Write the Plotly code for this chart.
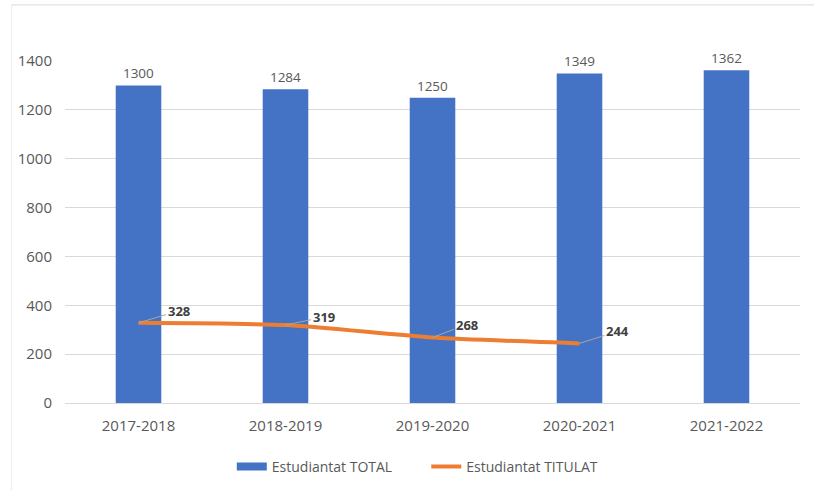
import plotly.graph_objects as go

categories = ["2017-2018", "2018-2019", "2019-2020", "2020-2021", "2021-2022"]
total_values = [1300, 1284, 1250, 1349, 1362]
titulat_cats = ["2017-2018", "2018-2019", "2019-2020", "2020-2021"]
titulat_values = [328, 319, 268, 244]
y_ticks = [0, 200, 400, 600, 800, 1000, 1200, 1400]

FONT = "Open Sans"
GRAY = "#595959"
BLUE = "#4472C4"
ORANGE = "#ED7D31"

fig = go.Figure()
fig.add_trace(go.Bar(
    x=categories, y=total_values, name="Estudiantat TOTAL",
    marker=dict(color=BLUE, line=dict(width=0)),
    text=[str(v) for v in total_values], textposition="outside",
    textfont=dict(family=FONT, size=13.5, color=GRAY),
    cliponaxis=False, showlegend=False,
))
# legend entry for bars drawn as a wide rectangle
fig.add_trace(go.Scatter(
    x=[None], y=[None], name="Estudiantat TOTAL" + "\u00a0" * 8, mode="lines",
    line=dict(color=BLUE, width=8), showlegend=True,
))
fig.add_trace(go.Scatter(
    x=titulat_cats, y=titulat_values, name="Estudiantat TITULAT",
    mode="lines", line=dict(color=ORANGE, width=4, shape="spline", smoothing=0.6),
    cliponaxis=False,
))

offsets = [(40, -12), (38, -8), (34, -13), (38, -12)]
for c, v, (ax, ay) in zip(titulat_cats, titulat_values, offsets):
    fig.add_annotation(
        x=c, y=v, text="<b>%d</b>" % v, showarrow=True, arrowhead=0,
        arrowwidth=1, arrowcolor="#A6A6A6", ax=ax, ay=ay,
        font=dict(family=FONT, size=13, color="#404040"),
    )

# chart border (top and left)
fig.add_shape(type="line", xref="paper", yref="paper", x0=-0.073, x1=1.03, y0=1.164, y1=1.164,
              line=dict(color="#D9D9D9", width=1))
fig.add_shape(type="line", xref="paper", yref="paper", x0=-0.073, x1=-0.073, y0=1.164, y1=-0.26,
              line=dict(color="#EDEDED", width=1))

fig.update_layout(
    width=814, height=491,
    margin=dict(l=65, r=14, t=61, b=88, autoexpand=False),
    paper_bgcolor="white", plot_bgcolor="white",
    bargap=0.69,
    font=dict(family=FONT, size=13, color=GRAY),
    showlegend=True,
    legend=dict(orientation="h", x=0.48, xanchor="center", y=-0.187, yanchor="middle",
                font=dict(family=FONT, size=14, color=GRAY), itemwidth=30,
                traceorder="normal"),
    xaxis=dict(showgrid=False, showline=True, linecolor="#D9D9D9", linewidth=1,
               ticks="", ticklabelstandoff=9, tickfont=dict(family=FONT, size=15, color=GRAY)),
    yaxis=dict(range=[0, 1400], tickvals=y_ticks, showgrid=True, gridcolor="#D9D9D9",
               zeroline=False, showline=False, ticks="", ticklabelstandoff=12,
               tickfont=dict(family=FONT, size=15, color=GRAY)),
)

fig.write_html("out.html")
